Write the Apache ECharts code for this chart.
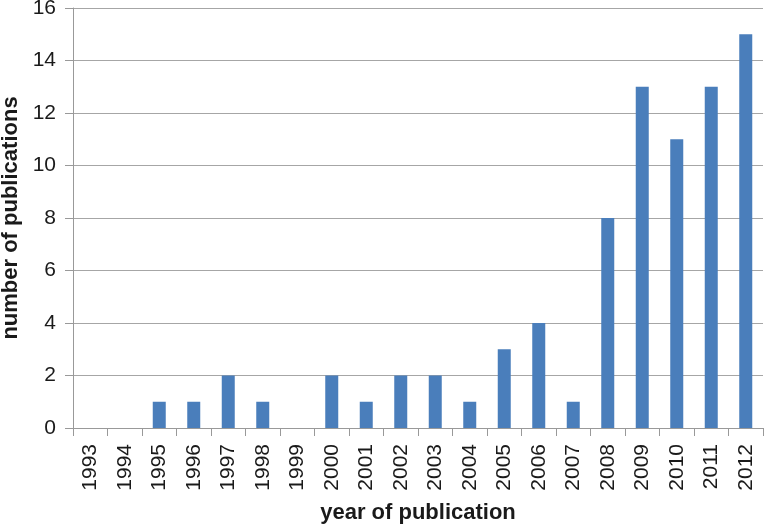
<!DOCTYPE html>
<html><head><meta charset="utf-8">
<script src="https://cdn.jsdelivr.net/npm/echarts@6/dist/echarts.min.js"></script>
<style>html,body{margin:0;padding:0;background:#fff}#c{width:766px;height:524px}</style>
</head><body><div id="c"></div>
<script>
const years = ['1993','1994','1995','1996','1997','1998','1999','2000','2001','2002','2003','2004','2005','2006','2007','2008','2009','2010','2011','2012'];
const publications = [0,0,1,1,2,1,0,2,1,2,2,1,3,4,1,8,13,11,13,15];
const yTicks = [0,2,4,6,8,10,12,14,16];
const font = 'Liberation Sans, Arial, Helvetica, sans-serif';
const chart = echarts.init(document.getElementById('c'));
chart.setOption({
  animation: false,
  grid: {left: 73, right: 3, top: 8, bottom: 96, containLabel: false, outerBoundsMode: 'none'},
  xAxis: {
    type: 'category', data: years,
    name: 'year of publication', nameLocation: 'middle', nameGap: 74,
    nameTextStyle: {fontFamily: font, fontSize: 22, fontWeight: 'bold', color: '#1a1a1a'},
    axisLine: {lineStyle: {color: '#999', width: 1}},
    axisTick: {show: true, length: 8, alignWithLabel: false, lineStyle: {color: '#999'}},
    axisLabel: {rotate: 90, margin: 16, fontFamily: font, fontSize: 21, color: '#1a1a1a', interval: 0}
  },
  yAxis: {
    type: 'value', min: yTicks[0], max: yTicks[yTicks.length-1], interval: 2,
    name: 'number of publications', nameLocation: 'middle', nameGap: 50,
    nameTextStyle: {fontFamily: font, fontSize: 22, fontWeight: 'bold', color: '#1a1a1a'},
    axisLine: {show: true, lineStyle: {color: '#999', width: 1}},
    axisTick: {show: true, length: 8, lineStyle: {color: '#999'}},
    axisLabel: {margin: 17, fontFamily: font, fontSize: 21, color: '#1a1a1a'},
    splitLine: {lineStyle: {color: '#a6a6a6', width: 1}}
  },
  series: [{
    type: 'bar', data: publications, barWidth: 13,
    itemStyle: {color: '#4a7ebb'}
  }]
});
</script></body></html>
